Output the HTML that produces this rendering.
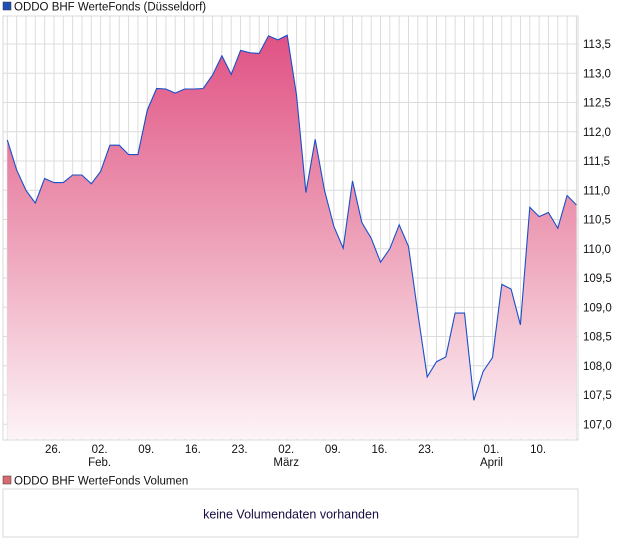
<!DOCTYPE html>
<html><head><meta charset="utf-8"><style>
body{margin:0;background:#fff;font-family:"Liberation Sans",sans-serif;}
svg text{font-family:"Liberation Sans",sans-serif;}
</style></head><body>
<svg id="chart" width="620" height="546" xmlns="http://www.w3.org/2000/svg">
<defs><linearGradient id="fillg" x1="0" y1="0" x2="0" y2="1">
<stop offset="0" stop-color="#e05284"/><stop offset="0.5" stop-color="#eda0b8"/><stop offset="1" stop-color="#fdf4f7"/></linearGradient></defs>
<rect x="3" y="2" width="8" height="8" fill="#1f4fb5" stroke="#333" stroke-width="0.5"/>
<text x="14" y="10.5" font-size="11.5" fill="#111">ODDO BHF WerteFonds (Düsseldorf)</text>
<g id="grid"></g>
<path id="area" fill="url(#fillg)"/>
<path id="line" fill="none" stroke="#1a4fc8" stroke-width="1.1"/>
<rect x="3" y="16" width="575" height="424" fill="none" stroke="#d8d8d8"/>
<g id="yticks"></g><g id="xticks"></g>
<rect x="3" y="476" width="8" height="8" fill="#d96a70" stroke="#333" stroke-width="0.5"/>
<text x="14" y="484.5" font-size="11.5" fill="#111">ODDO BHF WerteFonds Volumen</text>
<rect x="3" y="489" width="575" height="48" fill="#fff" stroke="#d8d8d8"/>
<text x="291" y="518.5" font-size="12.5" fill="#1a0a40" text-anchor="middle">keine Volumendaten vorhanden</text>
</svg>
<script>
const values=[111.86,111.35,111.00,110.78,111.20,111.13,111.13,111.26,111.26,111.11,111.32,111.77,111.77,111.61,111.61,112.37,112.74,112.73,112.66,112.73,112.73,112.74,112.97,113.30,112.98,113.39,113.35,113.34,113.64,113.57,113.65,112.63,110.96,111.87,111.00,110.38,110.01,111.16,110.45,110.18,109.77,110.00,110.41,110.04,108.90,107.81,108.07,108.15,108.90,108.90,107.41,107.90,108.14,109.39,109.31,108.70,110.71,110.55,110.62,110.35,110.91,110.75];
const yTicks=[107.0,107.5,108.0,108.5,109.0,109.5,110.0,110.5,111.0,111.5,112.0,112.5,113.0,113.5];
const xTickIdx=[5,10,15,20,25,30,35,40,45,52,57];
const xTickLabels=["26.","02.","09.","16.","23.","02.","09.","16.","23.","01.","10."];
const monthIdx=[10,30,52];
const monthLabels=["Feb.","März","April"];
const NS="http://www.w3.org/2000/svg";
function X(i){return 7.3+i*9.33;}
function Y(v){return 44+(113.5-v)*58.5;}
function mk(tag,attrs,parent){const e=document.createElementNS(NS,tag);for(const k in attrs)e.setAttribute(k,attrs[k]);parent.appendChild(e);return e;}
const grid=document.getElementById('grid');
for(let i=0;i<values.length;i++){
 const l=mk('line',{x1:X(i),x2:X(i),y1:16,y2:440,stroke:'#dcdcdc','stroke-width':1},grid);
 
 
}
const yt=document.getElementById('yticks');
yTicks.forEach(v=>{
 const l=mk('line',{x1:3,x2:578,y1:Y(v),y2:Y(v),stroke:'#dcdcdc','stroke-width':1},grid);
 
 
 const t=mk('text',{x:583,y:Y(v)+4,'font-size':11.5,fill:'#111'},yt);
 t.textContent=v.toFixed(1).replace('.',',');
 
 
});
let d='';values.forEach((v,i)=>{d+=(i?'L':'M')+X(i).toFixed(1)+','+Y(v).toFixed(1);});
document.getElementById('line').setAttribute('d',d);
document.getElementById('area').setAttribute('d',d+'L'+X(values.length-1).toFixed(1)+',439L'+X(0).toFixed(1)+',439Z');
const xt=document.getElementById('xticks');
xTickIdx.forEach((idx,k)=>{
 const t=mk('text',{x:X(idx)-1,y:453,'font-size':11.5,fill:'#111','text-anchor':'middle'},xt);
 t.textContent=xTickLabels[k];
 
 
});
monthIdx.forEach((idx,k)=>{
 const t=mk('text',{x:X(idx)-1,y:466,'font-size':11.5,fill:'#111','text-anchor':'middle'},xt);
 t.textContent=monthLabels[k];
 
 
});
</script>
</body></html>
